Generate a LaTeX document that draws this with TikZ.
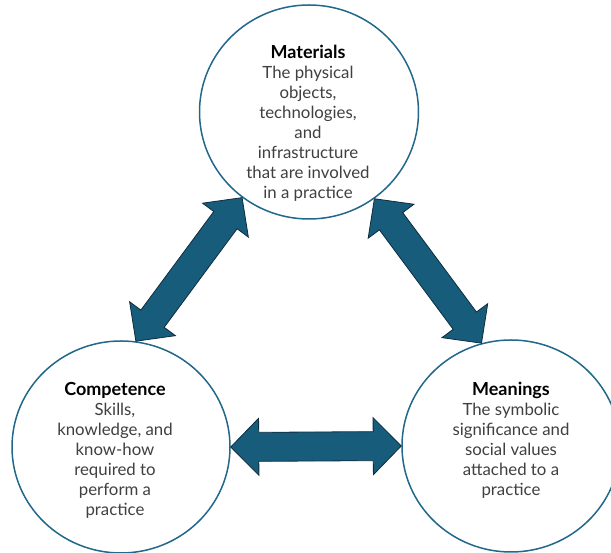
\documentclass[tikz,border=0pt]{standalone}
\usepackage{fontspec}
\setmainfont{Lato}
\usetikzlibrary{shapes.geometric,calc}
\definecolor{ringcol}{RGB}{34,104,138}
\definecolor{arrowfill}{RGB}{24,92,124}
\definecolor{arrowline}{RGB}{14,44,62}
\definecolor{bodytext}{RGB}{64,64,64}
\newcommand\RingTitle[1]{{\fontsize{18}{20}\selectfont\bfseries\color{black}#1}}
\tikzset{
  ring/.style={ellipse,draw=ringcol,line width=1.5pt,fill=white,minimum width=218pt,minimum height=212pt,inner sep=0pt},
  ringtext/.style={align=center,text=bodytext,font=\fontsize{16.8}{20}\selectfont,inner sep=0pt},
  blockarrow/.style={fill=arrowfill,draw=arrowline,line width=0.8pt,line join=miter}
}
\newcommand\BlkArrow[2]{%
  \path (#1); \pgfgetlastxy{\BAax}{\BAay}%
  \path (#2); \pgfgetlastxy{\BAbx}{\BAby}%
  \pgfmathsetmacro\BAang{atan2(\BAby-\BAay,\BAbx-\BAax)}%
  \pgfmathsetmacro\BAlen{veclen(\BAbx-\BAax,\BAby-\BAay)}%
  \draw[blockarrow,shift={(\BAax,\BAay)},rotate=\BAang]
    (0,0) -- (28pt,28.5pt) -- (28pt,14.5pt) -- ({\BAlen pt-28pt},14.5pt)
    -- ({\BAlen pt-28pt},28.5pt) -- (\BAlen pt,0pt) -- ({\BAlen pt-28pt},-28.5pt)
    -- ({\BAlen pt-28pt},-14.5pt) -- (28pt,-14.5pt) -- (28pt,-28.5pt) -- cycle;
}
\begin{document}
\begin{tikzpicture}[x=1pt,y=1pt]
\useasboundingbox (0,0) rectangle (611,553);
\node[ring,minimum width=219pt,minimum height=214pt] (mat) at (309,441) {};
\node[ring] (com) at (121,106) {};
\node[ring] (mea) at (511,107) {};
\node[ringtext] (mattxt) at (308,430) {\RingTitle{Materials}\\The physical\\objects,\\technologies,\\and\\infrastructure\\that are involved\\in a practice};
\node[ringtext] (comtxt) at (115,103) {\RingTitle{Competence}\\Skills,\\knowledge, and\\know-how\\required to\\perform a\\practice};
\node[ringtext] (meatxt) at (511,113) {\RingTitle{Meanings}\\The symbolic\\significance and\\social values\\attached to a\\practice};
\BlkArrow{mat.232.5}{com.82}
\BlkArrow{mat.307.5}{mea.106}
\BlkArrow{com.east}{mea.west}
\end{tikzpicture}
\end{document}
